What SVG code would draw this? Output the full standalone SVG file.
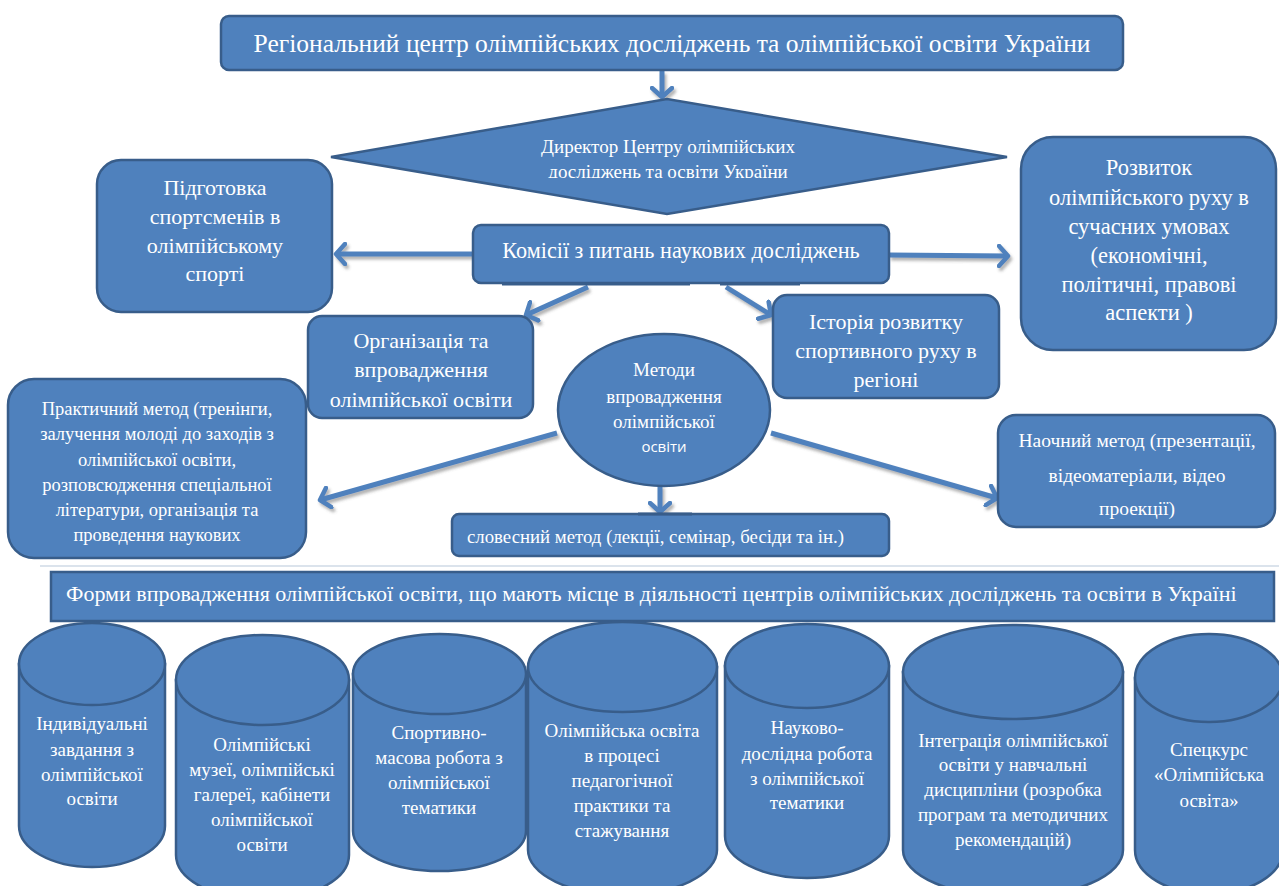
<svg xmlns="http://www.w3.org/2000/svg" width="1279" height="886" viewBox="0 0 1279 886">
<defs>
<style>
.n{fill:#4F81BD;stroke:#385D8A;stroke-width:2.5}
.t{fill:#fff;font-family:"Liberation Serif","Times New Roman",serif;text-anchor:middle}
.s{fill:#fff;font-family:"Open Sans","Liberation Sans",sans-serif;text-anchor:middle}
.c{fill:none;stroke:#4F81BD;stroke-width:5;marker-end:url(#chev)}
.d{stroke:#385D8A;stroke-width:3}
</style>
<marker id="chev" viewBox="0 0 14 24" refX="11" refY="12" markerWidth="14" markerHeight="24" markerUnits="userSpaceOnUse" orient="auto">
<path d="M2,2 L11,12 L2,22" fill="none" stroke="#4F81BD" stroke-width="4.5" stroke-linecap="round" stroke-linejoin="round"/>
</marker>
<filter id="sh" x="-10%" y="-10%" width="130%" height="150%">
<feDropShadow dx="2" dy="3" stdDeviation="1.5" flood-color="#555" flood-opacity="0.45"/>
</filter>
<clipPath id="dclip"><rect x="300" y="90" width="720" height="88"/></clipPath>
</defs>
<rect width="1279" height="886" fill="#fff"/>
<line x1="40" y1="566" x2="1279" y2="566" stroke="#dbe3ec" stroke-width="2"/>

<g id="connectors" filter="url(#sh)">
<line class="c" x1="662" y1="71" x2="662" y2="97"/>
<line class="c" x1="473" y1="254" x2="336" y2="254"/>
<line class="c" x1="889" y1="255" x2="1008" y2="256"/>
<line class="c" x1="588" y1="287" x2="526" y2="315"/>
<line class="c" x1="726" y1="287" x2="771" y2="315"/>
<line class="c" x1="557" y1="433" x2="320" y2="500"/>
<line class="c" x1="660" y1="485" x2="660" y2="512"/>
<line class="c" x1="771" y1="433" x2="997" y2="498"/>
</g>

<g id="n-top">
<rect class="n" x="221" y="16" width="902" height="54" rx="8"/>
<text class="t" x="672" y="52" font-size="25.5">Регіональний центр олімпійських досліджень та олімпійської освіти України</text>
</g>

<g id="n-director">
<polygon class="n" points="331,157 667,99 1007,157 667,214"/>
<g clip-path="url(#dclip)">
<text class="t" x="668" y="153" font-size="19">Директор Центру олімпійських</text>
<text class="t" x="668" y="178" font-size="19">досліджень та освіти України</text>
</g>
</g>

<g id="n-training">
<rect class="n" x="97" y="160" width="235" height="152" rx="24"/>
<text class="t" font-size="22"><tspan x="215" y="195">Підготовка</tspan><tspan x="215" y="224">спортсменів в</tspan><tspan x="215" y="253">олімпійському</tspan><tspan x="215" y="281">спорті</tspan></text>
</g>

<g id="n-commissions">
<rect class="n" x="473" y="225" width="416" height="58" rx="8"/>
<line class="d" x1="502" y1="284" x2="690" y2="284"/>
<line class="d" x1="720" y1="284" x2="800" y2="284"/>
<text class="t" x="681" y="258" font-size="22.2">Комісії з питань наукових досліджень</text>
</g>

<g id="n-development">
<rect class="n" x="1021" y="137" width="255" height="213" rx="32"/>
<text class="t" font-size="22.5"><tspan x="1149" y="175">Розвиток</tspan><tspan x="1149" y="205">олімпійського руху в</tspan><tspan x="1149" y="234">сучасних умовах</tspan><tspan x="1149" y="263">(економічні,</tspan><tspan x="1149" y="292">політичні, правові</tspan><tspan x="1149" y="320">аспекти )</tspan></text>
</g>

<g id="n-organization">
<rect class="n" x="308" y="316" width="225" height="102" rx="14"/>
<text class="t" font-size="22"><tspan x="421" y="348">Організація та</tspan><tspan x="421" y="377">впровадження</tspan><tspan x="421" y="407">олімпійської освіти</tspan></text>
</g>

<g id="n-history">
<rect class="n" x="773" y="295" width="226" height="103" rx="14"/>
<text class="t" font-size="22"><tspan x="886" y="329">Історія розвитку</tspan><tspan x="886" y="358">спортивного руху в</tspan><tspan x="886" y="387">регіоні</tspan></text>
</g>

<g id="n-methods">
<ellipse class="n" cx="664" cy="410" rx="106" ry="76"/>
<text class="t" font-size="19"><tspan x="664" y="376">Методи</tspan><tspan x="664" y="403">впровадження</tspan><tspan x="664" y="428">олімпійської</tspan></text>
<text class="s" x="664" y="452" font-size="15">освіти</text>
</g>

<g id="n-practical">
<rect class="n" x="8" y="379" width="298" height="179" rx="26"/>
<text class="t" font-size="18.5"><tspan x="157" y="415">Практичний метод (тренінги,</tspan><tspan x="157" y="440">залучення молоді до заходів з</tspan><tspan x="157" y="466">олімпійської освіти,</tspan><tspan x="157" y="491">розповсюдження спеціальної</tspan><tspan x="157" y="516">літератури, організація та</tspan><tspan x="157" y="541">проведення наукових</tspan></text>
</g>

<g id="n-verbal">
<rect class="n" x="452" y="514" width="437" height="42" rx="7"/>
<line class="d" x1="638" y1="514" x2="692" y2="514"/>
<text class="t" x="467" y="543" font-size="18.8" style="text-anchor:start">словесний метод (лекції, семінар, бесіди та ін.)</text>
</g>

<g id="n-visual">
<rect class="n" x="998" y="415" width="277" height="112" rx="18"/>
<text class="t" font-size="19.5"><tspan x="1137" y="447">Наочний метод (презентації,</tspan><tspan x="1137" y="482">відеоматеріали, відео</tspan><tspan x="1137" y="515">проекції)</tspan></text>
</g>

<g id="n-forms">
<rect class="n" x="51" y="572" width="1223" height="49"/>
<text class="t" x="66" y="601" font-size="22" style="text-anchor:start">Форми впровадження олімпійської освіти, що мають місце в діяльності центрів олімпійських досліджень та освіти в Україні</text>
</g>

<g id="cyl-1">
<path class="n" d="M19,664 L19,826 A73,41 0 0 0 165,826 L165,664 Z"/>
<ellipse class="n" cx="92" cy="664" rx="73" ry="41"/>
<text class="t" font-size="19"><tspan x="92" y="730">Індивідуальні</tspan><tspan x="92" y="756">завдання з</tspan><tspan x="92" y="781">олімпійської</tspan><tspan x="92" y="805">освіти</tspan></text>
</g>

<g id="cyl-2">
<path class="n" d="M176,680 L176,855 A86.5,45 0 0 0 349,855 L349,680 Z"/>
<ellipse class="n" cx="262.5" cy="680" rx="86.5" ry="45"/>
<text class="t" font-size="19"><tspan x="262" y="751">Олімпійські</tspan><tspan x="262" y="776">музеї, олімпійські</tspan><tspan x="262" y="801">галереї, кабінети</tspan><tspan x="262" y="826">олімпійської</tspan><tspan x="262" y="851">освіти</tspan></text>
</g>

<g id="cyl-3">
<path class="n" d="M353,674 L353,831 A86.5,40 0 0 0 526,831 L526,674 Z"/>
<ellipse class="n" cx="439.5" cy="674" rx="86.5" ry="40"/>
<text class="t" font-size="19"><tspan x="439" y="739">Спортивно-</tspan><tspan x="439" y="764">масова робота з</tspan><tspan x="439" y="789">олімпійської</tspan><tspan x="439" y="814">тематики</tspan></text>
</g>

<g id="cyl-4">
<path class="n" d="M528,667 L528,850 A94.5,45 0 0 0 717,850 L717,667 Z"/>
<ellipse class="n" cx="622.5" cy="667" rx="94.5" ry="45"/>
<text class="t" font-size="19"><tspan x="622" y="737">Олімпійська освіта</tspan><tspan x="622" y="762">в процесі</tspan><tspan x="622" y="787">педагогічної</tspan><tspan x="622" y="812">практики та</tspan><tspan x="622" y="837">стажування</tspan></text>
</g>

<g id="cyl-5">
<path class="n" d="M725,666 L725,836 A82,42 0 0 0 889,836 L889,666 Z"/>
<ellipse class="n" cx="807" cy="666" rx="82" ry="42"/>
<text class="t" font-size="19"><tspan x="807" y="734">Науково-</tspan><tspan x="807" y="760">дослідна робота</tspan><tspan x="807" y="785">з олімпійської</tspan><tspan x="807" y="809">тематики</tspan></text>
</g>

<g id="cyl-6">
<path class="n" d="M903,672 L903,850 A110,47 0 0 0 1123,850 L1123,672 Z"/>
<ellipse class="n" cx="1013" cy="672" rx="110" ry="47"/>
<text class="t" font-size="19"><tspan x="1013" y="747">Інтеграція олімпійської</tspan><tspan x="1013" y="771">освіти у навчальні</tspan><tspan x="1013" y="796">дисципліни (розробка</tspan><tspan x="1013" y="821">програм та методичних</tspan><tspan x="1013" y="846">рекомендацій)</tspan></text>
</g>

<g id="cyl-7">
<path class="n" d="M1135,678 L1135,850 A74,44 0 0 0 1283,850 L1283,678 Z"/>
<ellipse class="n" cx="1209" cy="678" rx="74" ry="44"/>
<text class="t" font-size="19"><tspan x="1209" y="756">Спецкурс</tspan><tspan x="1209" y="781">«Олімпійська</tspan><tspan x="1209" y="807">освіта»</tspan></text>
</g>
</svg>
